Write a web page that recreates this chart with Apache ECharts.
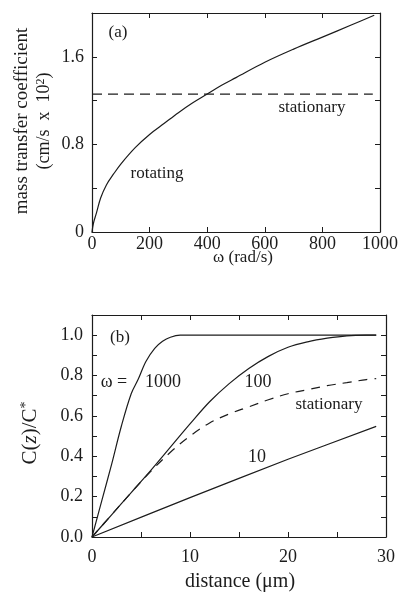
<!DOCTYPE html>
<html>
<head>
<meta charset="utf-8">
<script src="https://cdn.jsdelivr.net/npm/echarts@6/dist/echarts.min.js"></script>
<style>
  html, body { margin: 0; padding: 0; background: #fff; }
  #chart { width: 401px; height: 593px; }
</style>
</head>
<body>
<div id="chart"></div>
<script>
// Panel (a): mass transfer coefficient vs rotation rate
const omega      = [0, 5, 15, 30, 50, 75, 100, 150, 200, 250, 300, 350, 400, 450, 500, 600, 700, 800, 900, 980];
const kRotating  = [0, 0.08, 0.17, 0.31, 0.43, 0.53, 0.62, 0.77, 0.89, 0.99, 1.09, 1.18, 1.26, 1.34, 1.41, 1.55, 1.67, 1.78, 1.89, 1.98];
const omegaStat  = [0, 975];
const kStationary = [1.26, 1.26];

// Panel (b): concentration profiles C(z)/C*
const dist1000 = [0, 1, 2, 3, 4, 4.7, 5.5, 6.4, 7.2, 8, 9, 12, 20, 29];
const c1000    = [0, 0.18, 0.36, 0.55, 0.71, 0.78, 0.87, 0.935, 0.97, 0.99, 1.0, 1.0, 1.0, 1.0];
const dist     = [0, 2, 4, 6, 8, 10, 12, 14, 16, 18, 20, 22, 24, 26, 28, 29];
const c100     = [0, 0.11, 0.22, 0.33, 0.445, 0.56, 0.67, 0.76, 0.835, 0.895, 0.94, 0.967, 0.985, 0.997, 1.0, 1.0];
const cStat    = [0, 0.11, 0.22, 0.325, 0.42, 0.5, 0.565, 0.61, 0.645, 0.68, 0.71, 0.73, 0.75, 0.765, 0.78, 0.785];
const dist10   = [0, 10, 20, 29];
const c10      = [0, 0.195, 0.385, 0.548];

// Tick labels
const aYLabels = ['0', '0.8', '1.6'];
const aYLabelValues = [0, 0.8, 1.6];
const bXLabelValues = [0, 10, 20, 30];
const bYLabelValues = [0, 0.2, 0.4, 0.6, 0.8, 1.0];

const FONT = 'Liberation Serif';
const INK = '#1c1c1c';

function pairs(xs, ys) { return xs.map((x, i) => [x, ys[i]]); }
function near(v, list) { return list.findIndex(t => Math.abs(t - v) < 1e-6); }
function f(size) { return size + 'px "' + FONT + '"'; }

const lineBase = { color: INK, width: 1.2 };
const axisLine = { show: true, onZero: false, lineStyle: { color: INK, width: 1.2 } };
const tick = { show: true, inside: true, length: 5, lineStyle: { color: INK, width: 1 } };
const lbl = { color: INK, fontFamily: FONT, fontSize: 18 };

function frameAxis(base, extra) { return Object.assign({}, base, extra); }

const chart = echarts.init(document.getElementById('chart'), null, { renderer: 'canvas' });

const xA = { type: 'value', gridIndex: 0, min: 0, max: 1000, interval: 200, axisLine, axisTick: tick, splitLine: { show: false } };
const yA = { type: 'value', gridIndex: 0, min: 0, max: 2.0, interval: 0.4, axisLine, axisTick: tick, splitLine: { show: false } };
const xB = { type: 'value', gridIndex: 1, min: 0, max: 30, interval: 5, axisLine, axisTick: tick, splitLine: { show: false } };
const yB = { type: 'value', gridIndex: 1, min: 0, max: 1.1, interval: 0.1, axisLine, axisTick: tick, splitLine: { show: false } };

const option = {
  backgroundColor: '#fff',
  animation: false,
  grid: [
    { left: 92, top: 13, width: 294, height: 219 },
    { left: 92, top: 315, width: 294, height: 222 }
  ],
  xAxis: [
    frameAxis(xA, { position: 'bottom', axisLabel: Object.assign({ margin: 3, formatter: v => String(v) }, lbl) }),
    frameAxis(xA, { position: 'top', axisLabel: { show: false } }),
    frameAxis(xB, { position: 'bottom', axisLabel: Object.assign({ margin: 11,
      formatter: v => near(v, bXLabelValues) >= 0 ? String(v) : '' }, lbl) }),
    frameAxis(xB, { position: 'top', axisLabel: { show: false } })
  ],
  yAxis: [
    frameAxis(yA, { position: 'left', axisLabel: Object.assign({ margin: 8,
      formatter: v => { const i = near(v, aYLabelValues); return i >= 0 ? aYLabels[i] : ''; } }, lbl) }),
    frameAxis(yA, { position: 'right', axisLabel: { show: false } }),
    frameAxis(yB, { position: 'left', axisLabel: Object.assign({ margin: 9,
      formatter: v => near(v, bYLabelValues) >= 0 ? v.toFixed(1) : '' }, lbl) }),
    frameAxis(yB, { position: 'right', axisLabel: { show: false } })
  ],
  series: [
    { type: 'line', name: 'rotating', xAxisIndex: 0, yAxisIndex: 0, data: pairs(omega, kRotating),
      smooth: 0.35, showSymbol: false, lineStyle: lineBase },
    { type: 'line', name: 'stationary', xAxisIndex: 0, yAxisIndex: 0, data: pairs(omegaStat, kStationary),
      showSymbol: false, lineStyle: Object.assign({}, lineBase, { type: [10, 6] }) },
    { type: 'line', name: 'ω = 1000', xAxisIndex: 2, yAxisIndex: 2, data: pairs(dist1000, c1000),
      smooth: 0.35, showSymbol: false, lineStyle: lineBase },
    { type: 'line', name: 'ω = 100', xAxisIndex: 2, yAxisIndex: 2, data: pairs(dist, c100),
      smooth: 0.35, showSymbol: false, lineStyle: lineBase },
    { type: 'line', name: 'stationary (b)', xAxisIndex: 2, yAxisIndex: 2, data: pairs(dist, cStat),
      smooth: 0.35, showSymbol: false, lineStyle: Object.assign({}, lineBase, { type: [9, 7] }) },
    { type: 'line', name: 'ω = 10', xAxisIndex: 2, yAxisIndex: 2, data: pairs(dist10, c10),
      smooth: 0.3, showSymbol: false, lineStyle: lineBase }
  ],
  graphic: [
    // axis titles
    { type: 'text', x: 22, y: 121, rotation: Math.PI / 2,
      style: { text: 'mass transfer coefficient', font: f(19), fill: INK, align: 'center', verticalAlign: 'middle' } },
    { type: 'text', x: 44, y: 121, rotation: Math.PI / 2,
      style: { text: '(cm/s  x  10{sup|2})', font: f(18), fill: INK, align: 'center', verticalAlign: 'middle',
        rich: { sup: { fontSize: 12, fontFamily: FONT, verticalAlign: 'top', fill: INK } } } },
    { type: 'text', x: 243, y: 258,
      style: { text: 'ω (rad/s)', font: f(17), fill: INK, align: 'center', verticalAlign: 'middle' } },
    { type: 'text', x: 30, y: 433, rotation: Math.PI / 2,
      style: { text: 'C({i|z})/C{sup|*}', font: f(21), fill: INK, align: 'center', verticalAlign: 'middle',
        rich: { i: { fontStyle: 'italic', fontSize: 21, fontFamily: FONT, fill: INK },
                sup: { fontSize: 14, fontFamily: FONT, verticalAlign: 'top', fill: INK } } } },
    { type: 'text', x: 240, y: 582,
      style: { text: 'distance (μm)', font: f(20), fill: INK, align: 'center', verticalAlign: 'middle' } },
    // panel (a) annotations
    { type: 'text', x: 118, y: 33, style: { text: '(a)', font: f(17), fill: INK, align: 'center', verticalAlign: 'middle' } },
    { type: 'text', x: 312, y: 108, style: { text: 'stationary', font: f(17), fill: INK, align: 'center', verticalAlign: 'middle' } },
    { type: 'text', x: 157, y: 174, style: { text: 'rotating', font: f(17), fill: INK, align: 'center', verticalAlign: 'middle' } },
    // panel (b) annotations
    { type: 'text', x: 120, y: 338, style: { text: '(b)', font: f(17), fill: INK, align: 'center', verticalAlign: 'middle' } },
    { type: 'text', x: 114, y: 382, style: { text: 'ω =', font: f(18), fill: INK, align: 'center', verticalAlign: 'middle' } },
    { type: 'text', x: 163, y: 382, style: { text: '1000', font: f(18), fill: INK, align: 'center', verticalAlign: 'middle' } },
    { type: 'text', x: 258, y: 382, style: { text: '100', font: f(18), fill: INK, align: 'center', verticalAlign: 'middle' } },
    { type: 'text', x: 329, y: 405, style: { text: 'stationary', font: f(17), fill: INK, align: 'center', verticalAlign: 'middle' } },
    { type: 'text', x: 257, y: 457, style: { text: '10', font: f(18), fill: INK, align: 'center', verticalAlign: 'middle' } }
  ]
};

chart.setOption(option);
</script>
</body>
</html>
